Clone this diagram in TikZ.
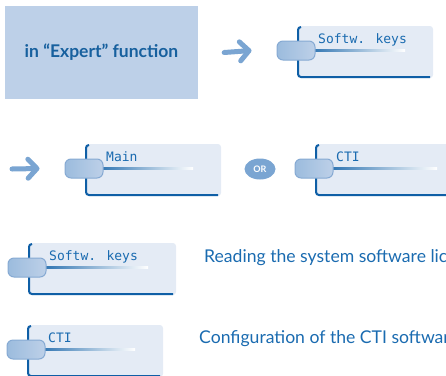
\documentclass[tikz,border=0pt]{standalone}
\usepackage{fontspec}
\setmainfont{Lato}
\newfontfamily\lcdfont{DejaVu Sans Mono}
\usetikzlibrary{arrows.meta,shapes.geometric}

\definecolor{ink}{HTML}{1A6BB0}
\definecolor{boxblue}{HTML}{BDD0E8}
\definecolor{arrowblue}{HTML}{7AA5D2}
\definecolor{panelfill}{HTML}{E4EBF5}
\definecolor{panelrule}{HTML}{0F5FA6}
\definecolor{pilledge}{HTML}{86AAD3}

\tikzset{
  expertbox/.style={fill=boxblue, minimum width=193pt, minimum height=93pt, inner sep=0pt,
    text=ink!90!black, font=\bfseries\fontsize{17.5}{20}\selectfont},
  bigarrow/.style={draw=arrowblue, line width=5pt, line cap=round,
    -{Straight Barb[round,length=9pt,width=19pt]}},
  keypill/.style={rectangle, rounded corners=6pt, minimum width=38pt, minimum height=19pt,
    inner sep=0pt, draw=pilledge, line width=1pt, left color=arrowblue!75, right color=boxblue},
  lcd/.style={text=ink, inner sep=0pt, font=\lcdfont\fontsize{13}{13}\selectfont},
  desc/.style={text=ink, inner sep=0pt, font=\fontsize{17.6}{20}\selectfont},
  ornode/.style={ellipse, fill=arrowblue, minimum width=31pt, minimum height=21pt, inner sep=0pt,
    text=white, font=\bfseries\fontsize{9}{9}\selectfont},
}

\begin{document}
\begin{tikzpicture}[x=1pt,y=-1pt]
  \useasboundingbox (0,0) rectangle (446,375);
  \clip (0,0) rectangle (446,375);
  % name, left, top, width, label
  \def\screen#1#2#3#4#5{%
    \fill[panelfill, rounded corners=3pt] (#2,#3) rectangle ++(#4,52);
    \draw[panelrule, line width=2pt, rounded corners=3pt]
      (#2+4,#3+1) -- (#2+1,#3+1) -- (#2+1,#3+51) -- (#2+#4-3,#3+51);
    \shade[left color=panelrule, right color=white] (#2,#3+23) rectangle (#2+#4-28,#3+25);
    \node[keypill] (#1) at (#2-1,#3+24.5) {};
    \node[lcd, anchor=base west] (#1-txt) at (#2+21,#3+17) {#5};
  }

  % ---------------- top row ----------------
  \node[expertbox] (expert) at (101.5,52.5) {in “Expert” function};
  \screen{softkeys}{297}{26}{136}{Softw. keys}
  \draw[bigarrow] ([xshift=26pt]expert.east) -- ([xshift=-25pt]softkeys.west);

  % ---------------- Main or CTI ----------------
  \coordinate (rowstart) at (12,169);
  \screen{main}{85}{144}{136}{Main}
  \screen{cti}{315}{144}{150}{CTI}
  \draw[bigarrow] (rowstart) -- ([xshift=-25pt]main.west);
  \node[ornode] (or) at (260,169) {OR};

  % ---------------- descriptions ----------------
  \screen{readkeys}{28}{243}{148}{Softw. keys}
  \node[desc, anchor=base west] (readlic) at (204,262) {Reading the system software licences};
  \screen{ctikeys}{27}{325}{136}{CTI}
  \node[desc, anchor=base west] (cticonf) at (199,343) {Configuration of the CTI software};
\end{tikzpicture}
\end{document}
